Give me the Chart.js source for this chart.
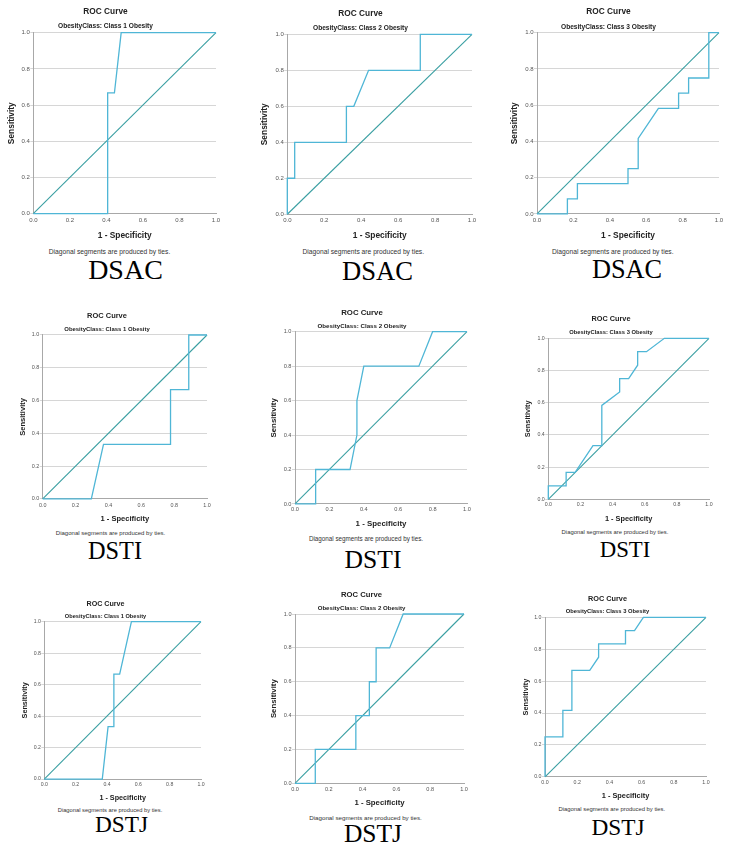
<!DOCTYPE html>
<html>
<head>
<meta charset="utf-8">
<script src="https://cdn.jsdelivr.net/npm/chart.js@4.4.0/dist/chart.umd.min.js"></script>
<style>
  html, body { margin: 0; padding: 0; background: #fff; }
  body { width: 733px; height: 851px; position: relative; overflow: hidden; }
  canvas { position: absolute; }
  .note { position: absolute; font-family: "Liberation Sans", Arial, sans-serif; color: #333; white-space: nowrap; transform: translate(-50%, -50%); line-height: 1; }
  .tag { position: absolute; font-family: "Liberation Serif", "Times New Roman", serif; color: #000; white-space: nowrap; transform: translate(-50%, -50%); line-height: 1; }
</style>
</head>
<body>
<script>
const tickValues = [0, 0.2, 0.4, 0.6, 0.8, 1.0];
const diagonal = [0, 1];
const subtitles = ['ObesityClass: Class 1 Obesity', 'ObesityClass: Class 2 Obesity', 'ObesityClass: Class 3 Obesity'];
const methods = ['DSAC', 'DSTI', 'DSTJ'];
const noteText = 'Diagonal segments are produced by ties.';

// x = 1 - specificity, y = sensitivity
const dsac1Fpr = [0, 0.407, 0.407, 0.444, 0.481, 1];
const dsac1Tpr = [0, 0, 0.667, 0.667, 1, 1];
const dsac2Fpr = [0, 0, 0.04, 0.04, 0.32, 0.32, 0.36, 0.44, 0.72, 0.72, 1];
const dsac2Tpr = [0, 0.2, 0.2, 0.4, 0.4, 0.6, 0.6, 0.8, 0.8, 1, 1];
const dsac3Fpr = [0, 0.167, 0.167, 0.222, 0.222, 0.5, 0.5, 0.556, 0.556, 0.667, 0.778, 0.778, 0.833, 0.833, 0.944, 0.944, 1];
const dsac3Tpr = [0, 0, 0.083, 0.083, 0.167, 0.167, 0.25, 0.25, 0.417, 0.583, 0.583, 0.667, 0.667, 0.75, 0.75, 1, 1];

const dsti1Fpr = [0, 0.296, 0.37, 0.778, 0.778, 0.889, 0.889, 1];
const dsti1Tpr = [0, 0, 0.333, 0.333, 0.667, 0.667, 1, 1];
const dsti2Fpr = [0, 0.12, 0.12, 0.32, 0.36, 0.36, 0.4, 0.72, 0.8, 1];
const dsti2Tpr = [0, 0, 0.2, 0.2, 0.4, 0.6, 0.8, 0.8, 1, 1];
const dsti3Fpr = [0, 0, 0.111, 0.111, 0.167, 0.278, 0.333, 0.333, 0.444, 0.444, 0.5, 0.556, 0.556, 0.611, 0.722, 1];
const dsti3Tpr = [0, 0.083, 0.083, 0.167, 0.167, 0.333, 0.333, 0.583, 0.667, 0.75, 0.75, 0.833, 0.917, 0.917, 1, 1];

const dstj1Fpr = [0, 0.37, 0.407, 0.444, 0.444, 0.481, 0.556, 1];
const dstj1Tpr = [0, 0, 0.333, 0.333, 0.667, 0.667, 1, 1];
const dstj2Fpr = [0, 0.12, 0.12, 0.36, 0.36, 0.44, 0.44, 0.48, 0.48, 0.56, 0.64, 1];
const dstj2Tpr = [0, 0, 0.2, 0.2, 0.4, 0.4, 0.6, 0.6, 0.8, 0.8, 1, 1];
const dstj3Fpr = [0, 0, 0.111, 0.111, 0.167, 0.167, 0.278, 0.333, 0.333, 0.5, 0.5, 0.556, 0.611, 1];
const dstj3Tpr = [0, 0.25, 0.25, 0.417, 0.417, 0.667, 0.667, 0.75, 0.833, 0.833, 0.917, 0.917, 1, 1];

const curves = [
  [dsac1Fpr, dsac1Tpr], [dsac2Fpr, dsac2Tpr], [dsac3Fpr, dsac3Tpr],
  [dsti1Fpr, dsti1Tpr], [dsti2Fpr, dsti2Tpr], [dsti3Fpr, dsti3Tpr],
  [dstj1Fpr, dstj1Tpr], [dstj2Fpr, dstj2Tpr], [dstj3Fpr, dstj3Tpr]
];

// where each small chart sits on the page (plot box, text rows, text scale)
const layout = [
  {cx:109.5, L:33.3, R:216, T:32.7, B:213.7, titleY:12, subY:26, yLabX:11.7, xTickY:220.7, xLabY:236, noteX:109.5, noteY:252, tagX:125.5, tagY:270, tagSize:28, s:1.0},
  {cx:364.5, L:287.3, R:472.3, T:34.3, B:214.3, titleY:14, subY:28.3, yLabX:265, xTickY:220.7, xLabY:236, noteX:363.3, noteY:252, tagX:377.5, tagY:271, tagSize:26.6, s:1.0},
  {cx:612.8, L:537, R:719.3, T:32.7, B:214.3, titleY:12, subY:26.7, yLabX:515, xTickY:220.7, xLabY:236.3, noteX:612.8, noteY:252, tagX:627, tagY:270, tagSize:26.3, s:1.0},
  {cx:110.8, L:42.7, R:206.7, T:335, B:498.7, titleY:316, subY:329.3, yLabX:22.7, xTickY:505, xLabY:518.3, noteX:110.5, noteY:532.7, tagX:115, tagY:551, tagSize:24.3, s:0.9},
  {cx:366, L:295, R:466.7, T:331.7, B:503.7, titleY:312.7, subY:326, yLabX:274.3, xTickY:509.3, xLabY:524, noteX:366, noteY:539, tagX:373, tagY:560, tagSize:25.6, s:0.94},
  {cx:615, L:548.3, R:709, T:338.3, B:499, titleY:319.3, subY:332.7, yLabX:528.3, xTickY:504.3, xLabY:518.3, noteX:615, noteY:532.7, tagX:625, tagY:550, tagSize:22.8, s:0.88},
  {cx:109.8, L:44.3, R:201.3, T:621.7, B:778.7, titleY:603.7, subY:616.7, yLabX:25, xTickY:784, xLabY:797.3, noteX:110, noteY:811.3, tagX:121.5, tagY:825, tagSize:23.3, s:0.86},
  {cx:365.5, L:295, R:464.3, T:614, B:783.3, titleY:594.7, subY:608.7, yLabX:274.3, xTickY:789.3, xLabY:803.3, noteX:365.5, noteY:818, tagX:373, tagY:834, tagSize:25.5, s:0.925},
  {cx:611.5, L:545, R:705.7, T:617.3, B:777.3, titleY:598.7, subY:611.7, yLabX:526, xTickY:782.7, xLabY:796, noteX:611.8, noteY:810, tagX:618, tagY:828, tagSize:23.3, s:0.88}
];

const LH = 1.2;
const SANS = '"Liberation Sans", Arial, sans-serif';

const toPoints = (xs, ys) => xs.map((x, i) => ({x: x, y: ys[i]}));

const drawPanel = (idx) => {
  const p = layout[idx];
  const [fpr, tpr] = curves[idx];
  const s = p.s;
  const fTitle = 8.3 * s, fSub = 6.6 * s, fTick = 6 * s, fAxis = 8.4 * s, fNote = 6.7 * s;
  const padR = 8;

  const cl = Math.round(2 * p.cx - p.R - padR);
  const cr = Math.round(p.R + padR);
  const W = cr - cl;
  const ct = Math.round(p.titleY - fTitle * LH / 2 - 1);
  const titleTop = p.titleY - fTitle * LH / 2 - ct;
  const subGap = Math.max(0, p.subY - fSub * LH / 2 - (p.titleY + fTitle * LH / 2));
  const subBottom = Math.max(0, p.T - (p.subY + fSub * LH / 2));
  const xH = p.xLabY + fAxis * LH / 2 + 1 - p.B;
  const H = Math.round(p.B + xH) - ct;
  const yW = p.L - cl;
  const yTitlePad = Math.max(0, p.yLabX - cl - fAxis * LH / 2);
  const xTickPad = Math.max(0, p.xTickY - p.B - fTick * LH / 2);

  const c = document.createElement('canvas');
  c.width = W; c.height = H;
  c.style.left = cl + 'px'; c.style.top = ct + 'px';
  c.style.width = W + 'px'; c.style.height = H + 'px';
  document.body.appendChild(c);

  new Chart(c.getContext('2d'), {
    type: 'scatter',
    data: {
      datasets: [
        {
          data: toPoints(fpr, tpr),
          showLine: true,
          borderColor: '#4fb6d6',
          borderWidth: 1.3,
          pointRadius: 0,
          clip: false
        },
        {
          data: toPoints(diagonal, diagonal),
          showLine: true,
          borderColor: '#3a9fa2',
          borderWidth: 1.1,
          pointRadius: 0,
          clip: false
        }
      ]
    },
    options: {
      responsive: false,
      animation: false,
      events: [],
      layout: { padding: { left: 0, right: padR, top: 0, bottom: 0 } },
      plugins: {
        legend: { display: false },
        tooltip: { enabled: false },
        title: {
          display: true,
          text: 'ROC Curve',
          color: '#222',
          font: { family: SANS, size: fTitle, weight: 'bold', lineHeight: LH },
          padding: { top: titleTop, bottom: subGap }
        },
        subtitle: {
          display: true,
          text: subtitles[idx % 3],
          color: '#222',
          font: { family: SANS, size: fSub, weight: 'bold', lineHeight: LH },
          padding: { top: 0, bottom: subBottom }
        }
      },
      scales: {
        x: {
          type: 'linear',
          min: 0, max: 1,
          afterBuildTicks: (scale) => { scale.ticks = tickValues.map(v => ({value: v})); },
          afterFit: (scale) => { scale.height = xH; },
          grid: { display: false, drawTicks: false },
          border: { display: true, color: '#a8a8a8', width: 1 },
          ticks: {
            padding: xTickPad,
            maxRotation: 0,
            color: '#555',
            font: { family: SANS, size: fTick, lineHeight: LH },
            callback: (v) => Number(v).toFixed(1)
          },
          title: {
            display: true,
            text: '1 - Specificity',
            color: '#222',
            font: { family: SANS, size: fAxis, weight: 'bold', lineHeight: LH },
            padding: { top: 0, bottom: 1 }
          }
        },
        y: {
          type: 'linear',
          min: 0, max: 1,
          afterBuildTicks: (scale) => { scale.ticks = tickValues.map(v => ({value: v})); },
          afterFit: (scale) => { scale.width = yW; },
          grid: { color: '#d6d6d6', lineWidth: 1, drawTicks: true, tickLength: 3 },
          border: { display: true, color: '#a8a8a8', width: 1 },
          ticks: {
            padding: 0.5,
            color: '#555',
            font: { family: SANS, size: fTick, lineHeight: LH },
            callback: (v) => Number(v).toFixed(1)
          },
          title: {
            display: true,
            text: 'Sensitivity',
            color: '#222',
            font: { family: SANS, size: fAxis, weight: 'bold', lineHeight: LH },
            padding: { top: yTitlePad, bottom: 0 }
          }
        }
      }
    }
  });

  const note = document.createElement('div');
  note.className = 'note';
  note.textContent = noteText;
  note.style.left = p.noteX + 'px';
  note.style.top = p.noteY + 'px';
  note.style.fontSize = fNote + 'px';
  document.body.appendChild(note);

  const tag = document.createElement('div');
  tag.className = 'tag';
  tag.textContent = methods[Math.floor(idx / 3)];
  tag.style.left = p.tagX + 'px';
  tag.style.top = p.tagY + 'px';
  tag.style.fontSize = p.tagSize + 'px';
  document.body.appendChild(tag);
};

document.addEventListener('DOMContentLoaded', () => {
  for (let i = 0; i < layout.length; i++) drawPanel(i);
});
</script>
</body>
</html>
